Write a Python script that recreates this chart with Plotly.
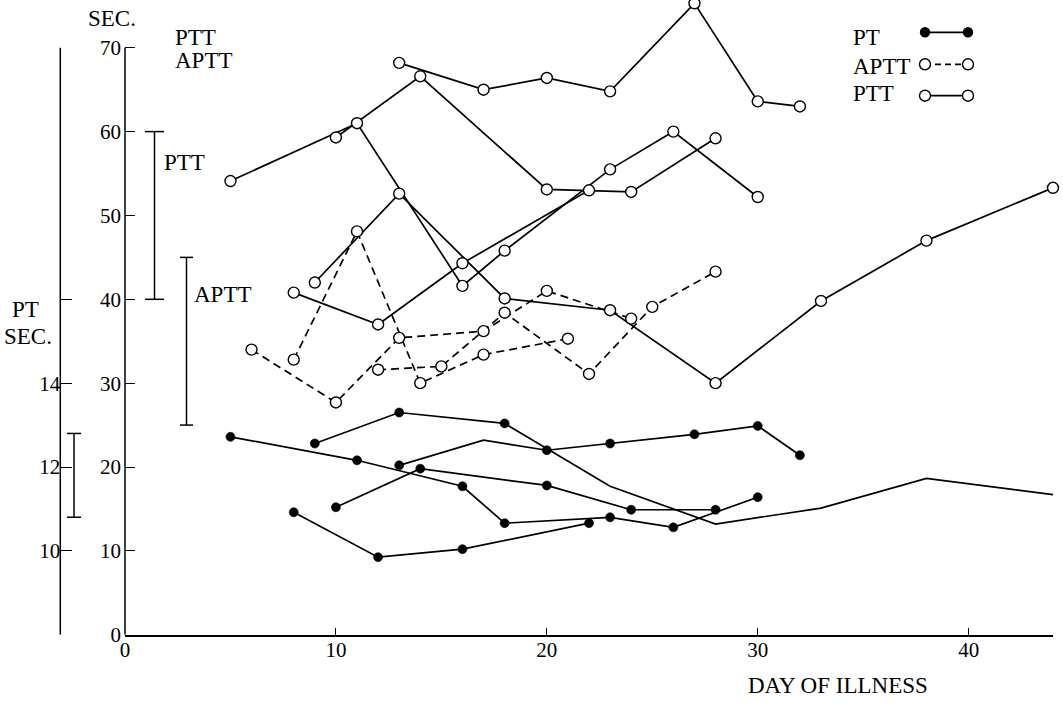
import plotly.graph_objects as go

W, H = 1063, 703

# ---------------- data ----------------
# PT in seconds (left-hand PT scale), five patients
pt_a_days = [5, 11, 16, 18, 23, 26, 30]
pt_a_sec = [12.72, 12.16, 11.54, 10.66, 10.80, 10.56, 11.28]
pt_b_days = [9, 13, 18, 23, 28, 33, 38, 44]
pt_b_sec = [12.56, 13.30, 13.04, 11.54, 10.64, 11.02, 11.73, 11.34]
pt_c_days = [10, 14, 20, 24, 28]
pt_c_sec = [11.04, 11.96, 11.56, 10.98, 10.98]
pt_d_days = [13, 17, 20, 23, 27, 30, 32]
pt_d_sec = [12.04, 12.64, 12.40, 12.56, 12.78, 12.98, 12.28]
pt_e_days = [8, 12, 16, 22]
pt_e_sec = [10.92, 9.85, 10.04, 10.66]

# PTT in seconds (main scale), solid line / open circles
ptt_a_days = [13, 17, 20, 23, 27, 30, 32]
ptt_a_sec = [68.2, 65.0, 66.4, 64.8, 75.3, 63.6, 63.0]
ptt_b_days = [5, 11, 16, 18, 23, 26, 30]
ptt_b_sec = [54.1, 61.0, 41.6, 45.8, 55.5, 60.0, 52.2]
ptt_c_days = [10, 14, 20, 24, 28]
ptt_c_sec = [59.3, 66.6, 53.1, 52.8, 59.2]
ptt_d_days = [8, 12, 16, 22]
ptt_d_sec = [40.8, 37.0, 44.3, 53.0]
ptt_e_days = [9, 13, 18, 23, 28, 33, 38, 44]
ptt_e_sec = [42.0, 52.6, 40.1, 38.7, 30.0, 39.8, 47.0, 53.3]

# APTT in seconds (main scale), dashed line / open circles
aptt_a_days = [8, 11, 14, 17, 21]
aptt_a_sec = [32.8, 48.1, 30.0, 33.4, 35.3]
aptt_b_days = [6, 10, 13, 17, 20, 24]
aptt_b_sec = [34.0, 27.7, 35.4, 36.2, 41.0, 37.7]
aptt_c_days = [12, 15, 18, 22, 25, 28]
aptt_c_sec = [31.6, 32.0, 38.4, 31.1, 39.1, 43.3]

# normal ranges
ptt_normal = [40, 60]
aptt_normal = [25, 45]
pt_normal = [10.8, 12.8]

# axes
x_ticks = [0, 10, 20, 30, 40]
y_ticks = [0, 10, 20, 30, 40, 50, 60, 70]
pt_tickvals = [8, 10, 12, 14, 16]
pt_ticktext = ["", "10", "12", "14", ""]

# ---------------- layout geometry ----------------
FONT = "Liberation Serif"
FS = 23
TFS = 21
LW = 1.7


def px(x):
    return x / W


def py(y):
    return 1 - y / H


y_bottom_px = 634.7
y_scale = 8.385  # px per second on the main scale
y_top = y_bottom_px / y_scale
pt_top = 8 + y_top / 5.0

fig = go.Figure()

pt_series = [
    (pt_a_days, pt_a_sec, [9] * 7),
    (pt_b_days, pt_b_sec, [9, 9, 9, 0, 0, 0, 0, 0]),
    (pt_c_days, pt_c_sec, [9] * 5),
    (pt_d_days, pt_d_sec, [9, 0, 9, 9, 9, 9, 9]),
    (pt_e_days, pt_e_sec, [9] * 4),
]
ptt_series = [
    (ptt_a_days, ptt_a_sec), (ptt_b_days, ptt_b_sec), (ptt_c_days, ptt_c_sec),
    (ptt_d_days, ptt_d_sec), (ptt_e_days, ptt_e_sec),
]
aptt_series = [
    (aptt_a_days, aptt_a_sec), (aptt_b_days, aptt_b_sec), (aptt_c_days, aptt_c_sec),
]

# lines first
for d, v in ptt_series:
    fig.add_trace(go.Scatter(x=d, y=v, mode="lines", line=dict(color="black", width=LW),
                             showlegend=False, hoverinfo="skip"))
for d, v in aptt_series:
    fig.add_trace(go.Scatter(x=d, y=v, mode="lines",
                             line=dict(color="black", width=LW, dash="8px,5px"),
                             showlegend=False, hoverinfo="skip"))
# open circles on top
for d, v in ptt_series + aptt_series:
    fig.add_trace(go.Scatter(x=d, y=v, mode="markers", cliponaxis=False,
                             marker=dict(symbol="circle", size=11, color="white",
                                         line=dict(color="black", width=1.4)),
                             showlegend=False))
# PT on its own (left) scale
for d, v, s in pt_series:
    fig.add_trace(go.Scatter(x=d, y=v, yaxis="y2", mode="lines+markers", cliponaxis=False,
                             line=dict(color="black", width=LW),
                             marker=dict(symbol="circle", size=s, color="#000000", opacity=1,
                                         line=dict(width=0.6, color="#000000")),
                             showlegend=False))

shapes = []
# main y axis line (0..70)
shapes.append(dict(type="line", xref="paper", yref="y", x0=px(125), x1=px(125), y0=0, y1=70,
                   line=dict(color="black", width=1.5)))
# PT axis line
shapes.append(dict(type="line", xref="paper", yref="y2", x0=px(60.3), x1=px(60.3), y0=8, y1=22,
                   line=dict(color="black", width=1.5)))


def range_bar(xc, half, lo, hi, yref):
    shapes.append(dict(type="line", xref="paper", yref=yref, x0=px(xc), x1=px(xc), y0=lo, y1=hi,
                       line=dict(color="black", width=1.5)))
    for yv in (lo, hi):
        shapes.append(dict(type="line", xref="paper", yref=yref, x0=px(xc - half), x1=px(xc + half),
                           y0=yv, y1=yv, line=dict(color="black", width=1.5)))


range_bar(154.5, 9.5, ptt_normal[0], ptt_normal[1], "y")
range_bar(186.5, 6.5, aptt_normal[0], aptt_normal[1], "y")
range_bar(74, 7, pt_normal[0], pt_normal[1], "y2")


def legend_sample(yc, filled, dash):
    shapes.append(dict(type="line", xref="paper", yref="paper", x0=px(925), x1=px(968),
                       y0=py(yc), y1=py(yc), line=dict(color="black", width=LW, dash=dash)))
    r = 4.5 if filled else 5.5
    for xc in (925, 968):
        shapes.append(dict(type="circle", xref="paper", yref="paper",
                           x0=px(xc - r), x1=px(xc + r), y0=py(yc + r), y1=py(yc - r),
                           fillcolor="black" if filled else "white",
                           line=dict(color="black", width=1.4)))


legend_sample(32.3, True, "solid")
legend_sample(64.3, False, "6px,4px")
legend_sample(95.7, False, "solid")

annotations = []


def text(t, x, y, anchor="left"):
    annotations.append(dict(text=t, x=px(x), y=py(y), xref="paper", yref="paper",
                            xanchor=anchor, yanchor="middle", showarrow=False,
                            font=dict(family=FONT, size=FS, color="black")))


text("SEC.", 112, 19, "center")
text("PTT", 173, 37.5)
text("APTT", 173, 60)
text("PTT", 162, 162.5)
text("APTT", 192, 294.5)
text("PT", 25, 310, "center")
text("SEC.", 28, 336, "center")
text("PT", 851, 37.5)
text("APTT", 851, 66)
text("PTT", 851, 93.5)
text("DAY OF ILLNESS", 838, 685, "center")

fig.update_layout(
    template="none",
    width=W, height=H, autosize=False,
    margin=dict(l=0, r=0, t=0, b=0, pad=0),
    paper_bgcolor="white", plot_bgcolor="white",
    showlegend=False,
    font=dict(family=FONT, size=TFS, color="black"),
    xaxis=dict(domain=[px(125), px(1053)], range=[0, 44], tickvals=x_ticks,
               ticks="inside", ticklen=7, tickwidth=1.2, tickcolor="black",
               showline=True, linecolor="black", linewidth=1.5, automargin=False,
               showgrid=False, zeroline=False, anchor="y", ticklabelstandoff=-5,
               tickfont=dict(family=FONT, size=TFS, color="black")),
    yaxis=dict(domain=[1 - y_bottom_px / H, 1], range=[0, y_top], tickvals=y_ticks,
               ticks="inside", ticklen=10, tickwidth=1.2, tickcolor="black",
               showline=False, showgrid=False, zeroline=False, anchor="x", automargin=False,
               ticklabelstandoff=3,
               tickfont=dict(family=FONT, size=TFS, color="black")),
    yaxis2=dict(domain=[1 - y_bottom_px / H, 1], range=[8, pt_top], overlaying="y",
                anchor="free", position=px(60.3), side="left", automargin=False,
                tickvals=pt_tickvals, ticktext=pt_ticktext,
                ticks="inside", ticklen=11, tickwidth=1.2, tickcolor="black",
                showline=False, showgrid=False, zeroline=False,
                tickfont=dict(family=FONT, size=TFS, color="black")),
    shapes=shapes,
    annotations=annotations,
)

fig.write_html("out.html", config={"displayModeBar": False},
               post_script="document.body.style.margin='0';document.body.style.overflow='hidden';")
